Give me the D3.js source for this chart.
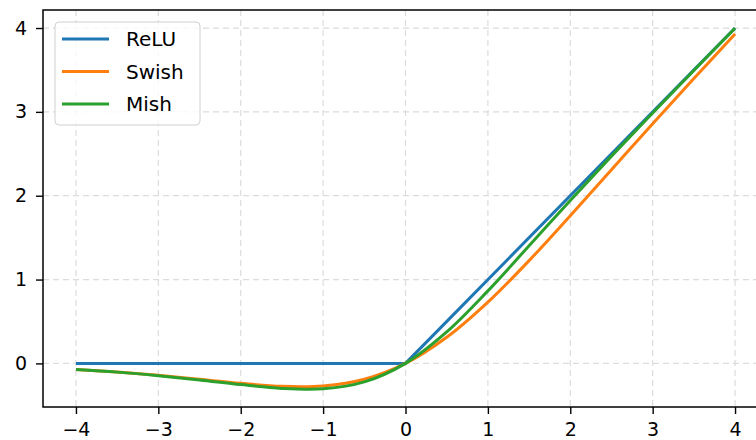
<!DOCTYPE html>
<html>
<head>
<meta charset="utf-8">
<script src="https://cdn.jsdelivr.net/npm/d3@7"></script>
<style>
  body { margin: 0; background: #fff; }
  svg { display: block; font-family: "DejaVu Sans", sans-serif; }
</style>
</head>
<body>
<svg id="chart1" width="756" height="440"></svg>
<script>
var xs = [-4, -3.5, -3, -2.5, -2, -1.5, -1, -0.5, 0, 0.5, 1, 1.5, 2, 2.5, 3, 3.5, 4];
var reluX = [-4, 0, 4];
var reluY = [0, 0, 4];
var swishY = [-0.072, -0.103, -0.142, -0.190, -0.238, -0.274, -0.269, -0.189, 0,
              0.311, 0.731, 1.226, 1.762, 2.310, 2.858, 3.397, 3.928];
var mishY = [-0.073, -0.104, -0.146, -0.197, -0.253, -0.298, -0.303, -0.221, 0,
             0.375, 0.865, 1.403, 1.944, 2.472, 2.986, 3.494, 3.997];
var names = ["ReLU", "Swish", "Mish"];
var colors = ["#1f77b4", "#ff7f0e", "#2ca02c"];
var xTicks = [-4, -3, -2, -1, 0, 1, 2, 3, 4];
var yTicks = [0, 1, 2, 3, 4];

var series = [
  reluX.map((x, i) => ({x: x, y: reluY[i]})),
  xs.map((x, i) => ({x: x, y: swishY[i]})),
  xs.map((x, i) => ({x: x, y: mishY[i]}))
];

var svg = d3.select("svg#chart1");
var plotL = 43, plotR = 768, plotT = 10, plotB = 407;

var x = d3.scaleLinear().domain([-4.4, 4.4]).range([plotL, plotR]);
var y = d3.scaleLinear().domain([-0.52, 4.215]).range([plotB, plotT]);

function fmt(d) { return d < 0 ? "\u2212" + Math.abs(d) : String(d); }

// grid
var grid = svg.append("g").attr("stroke", "#dcdcdc").attr("stroke-width", 1.2)
  .attr("stroke-dasharray", "6,4");
grid.selectAll("line.vx").data(xTicks).enter().append("line")
  .attr("x1", d => x(d)).attr("x2", d => x(d)).attr("y1", plotT).attr("y2", plotB);
grid.selectAll("line.hy").data(yTicks).enter().append("line")
  .attr("y1", d => y(d)).attr("y2", d => y(d)).attr("x1", plotL).attr("x2", plotR);

// curves: ReLU is piecewise straight, the others smooth
var straight = d3.line().x(d => x(d.x)).y(d => y(d.y));
var smooth = d3.line().x(d => x(d.x)).y(d => y(d.y)).curve(d3.curveCatmullRom.alpha(0.5));
svg.selectAll("path.curve").data(series).enter().append("path")
  .attr("class", "curve")
  .attr("fill", "none")
  .attr("stroke", (d, i) => colors[i])
  .attr("stroke-width", 3)
  .attr("d", (d, i) => i == 0 ? straight(d) : smooth(d));

// axes
var xAxis = d3.axisBottom(x).tickValues(xTicks).tickFormat(fmt).tickSize(7).tickPadding(9);
var yAxis = d3.axisLeft(y).tickValues(yTicks).tickFormat(fmt).tickSize(7).tickPadding(9);
var gx = svg.append("g").attr("transform", "translate(0," + plotB + ")").call(xAxis);
var gy = svg.append("g").attr("transform", "translate(" + plotL + ",0)").call(yAxis);
[gx, gy].forEach(g => {
  g.select(".domain").remove();
  g.selectAll(".tick line").attr("stroke", "#000").attr("stroke-width", 1.4);
  g.selectAll(".tick text").attr("fill", "#000").attr("font-size", 19)
    .attr("font-family", "DejaVu Sans, sans-serif");
});

// frame
svg.append("rect").attr("x", plotL).attr("y", plotT)
  .attr("width", plotR - plotL).attr("height", plotB - plotT)
  .attr("fill", "none").attr("stroke", "#000").attr("stroke-width", 1.5);

// legend
var lg = svg.append("g").attr("transform", "translate(55,22)");
lg.append("rect").attr("width", 145).attr("height", 103).attr("rx", 4)
  .attr("fill", "rgba(255,255,255,0.8)").attr("stroke", "#d0d0d0").attr("stroke-width", 1);
var items = lg.selectAll("g.item").data(names).enter().append("g")
  .attr("transform", (d, i) => "translate(0," + (17 + i * 32.5) + ")");
items.append("line").attr("x1", 7).attr("x2", 54)
  .attr("stroke", (d, i) => colors[i]).attr("stroke-width", 3);
items.append("text").attr("x", 71).attr("y", 7)
  .attr("font-size", 20).attr("fill", "#000").text(d => d);
</script>
</body>
</html>
